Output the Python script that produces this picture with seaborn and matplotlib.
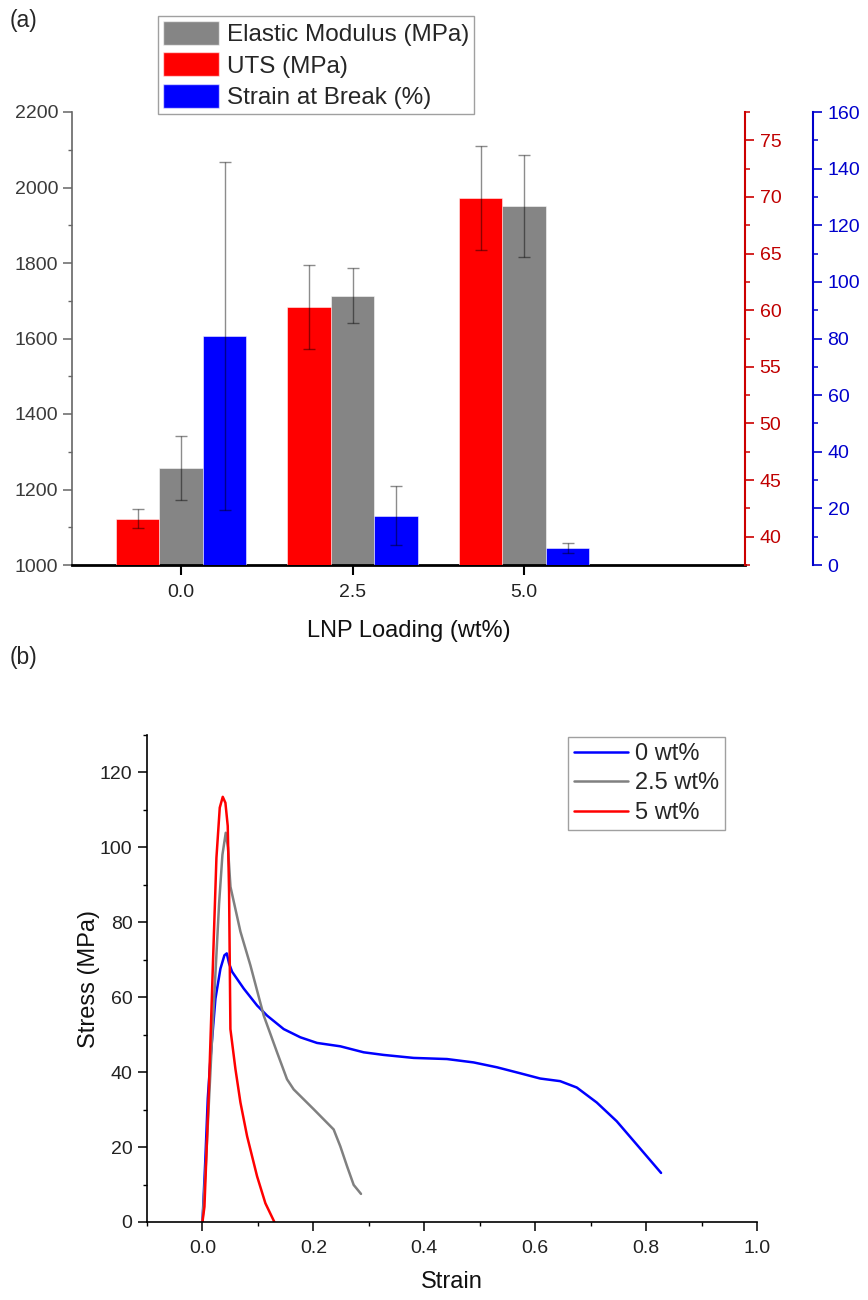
import numpy as np
import pandas as pd
import matplotlib
matplotlib.use("Agg")
import matplotlib.pyplot as plt
import seaborn as sns
from matplotlib.patches import Patch
from matplotlib.ticker import MultipleLocator, FixedLocator, FormatStrFormatter

# ---------------- data: panel (a) ----------------
loading = [0.0, 2.5, 5.0]
loading_labels = ["0.0", "2.5", "5.0"]
uts_mean = [41.6, 60.3, 69.9]
uts_sd = [0.85, 3.7, 4.6]
modulus_mean = [1256, 1713, 1952]
modulus_sd = [85, 73, 135]
strain_break_mean = [81.0, 17.4, 6.1]
strain_break_sd = [61.5, 10.4, 1.7]

# ---------------- data: panel (b) ----------------
strain_0 = [0.0, 0.005, 0.0096, 0.0144, 0.0234, 0.0324, 0.0396, 0.0438, 0.048, 0.0535,
            0.0745, 0.0985, 0.1165, 0.1465, 0.1766, 0.2066, 0.2486, 0.2907, 0.3267,
            0.3808, 0.4409, 0.4889, 0.531, 0.573, 0.609, 0.645, 0.675, 0.711, 0.747,
            0.783, 0.827]
stress_0 = [0.0, 16, 33, 43.5, 59.6, 67.6, 71.2, 71.7, 69.0, 66.8,
            62.3, 57.8, 55.1, 51.5, 49.3, 47.8, 46.9, 45.3, 44.6,
            43.8, 43.5, 42.6, 41.3, 39.7, 38.3, 37.6, 35.9, 31.9, 26.9,
            20.7, 13.1]
strain_25 = [0.0, 0.006, 0.012, 0.018, 0.024, 0.03, 0.036, 0.042, 0.046, 0.049, 0.0505,
             0.0685, 0.0865, 0.1105, 0.1345, 0.1525, 0.1645, 0.2006, 0.2366, 0.2486,
             0.2607, 0.2727, 0.2859]
stress_25 = [0.0, 15, 33, 51, 68, 85, 98, 103.9, 100, 93, 89.5,
             77.5, 68.5, 55.1, 45.3, 38.1, 35.4, 30.1, 24.7, 20.2,
             14.9, 9.9, 7.5]
strain_5 = [0.0, 0.0036, 0.0114, 0.0192, 0.0252, 0.0312, 0.0366, 0.0414, 0.0456, 0.048,
            0.0504, 0.0595, 0.0685, 0.0805, 0.0985, 0.1135, 0.1297]
stress_5 = [0.0, 4.1, 34.5, 70.3, 97.2, 110.6, 113.5, 111.9, 105.7, 88.2,
            51.5, 40.8, 31.9, 22.9, 12.2, 5.0, 0.0]
curve_labels = ["0 wt%", "2.5 wt%", "5 wt%"]

# ---------------- style ----------------
sns.set_theme(style="ticks")
plt.rcParams["font.family"] = ["Liberation Sans", "DejaVu Sans"]

W, H = 868, 1300
fig = plt.figure(figsize=(W / 100, H / 100), dpi=100)

RED = "#FF0000"
GRAY = "#858585"
BLUE = "#0000FF"
names = ["UTS (MPa)", "Elastic Modulus (MPa)", "Strain at Break (%)"]
pal = {names[0]: RED, names[1]: GRAY, names[2]: BLUE}

TICK_FS = 14
LAB_FS = 17

# ---------------- panel (a) ----------------
ax = fig.add_axes([72 / W, 1 - 565 / H, (745 - 72) / W, (565 - 112) / H])
ax_r = ax.twinx()
ax_b = ax.twinx()
ax_b.spines["right"].set_position(("outward", 68 * 0.72))

df_bars = pd.DataFrame({
    "loading": loading * 3,
    "measure": [names[0]] * 3 + [names[1]] * 3 + [names[2]] * 3,
    "value": uts_mean + modulus_mean + strain_break_mean,
    "sd": uts_sd + modulus_sd + strain_break_sd,
})

for axis, name in [(ax, names[1]), (ax_r, names[0]), (ax_b, names[2])]:
    sub = df_bars[df_bars["measure"] == name]
    sns.barplot(data=sub, x="loading", y="value", hue="measure", hue_order=names,
                palette=pal, saturation=1, native_scale=True, dodge=True, width=0.76,
                errorbar=None, legend=False, ax=axis,
                edgecolor=(1, 1, 1, 0.6), linewidth=0.6)
    bars = sorted(axis.patches, key=lambda p: p.get_x())
    for p, (_, row) in zip(bars, sub.sort_values("loading").iterrows()):
        cx = p.get_x() + p.get_width() / 2
        axis.errorbar(cx, row["value"], yerr=row["sd"], fmt="none",
                      ecolor=(0, 0, 0, 0.45), elinewidth=1.0, capsize=4, capthick=1.0)
    axis.set_xlabel("")
    axis.set_ylabel("")

ax.set_xlim(-1.59, 8.22)
ax.xaxis.set_major_locator(FixedLocator(loading))
ax.set_xticklabels(loading_labels)
ax.set_ylim(1000, 2200)
ax.yaxis.set_major_locator(MultipleLocator(200))
ax.yaxis.set_minor_locator(MultipleLocator(100))
ax_r.set_ylim(37.5, 77.5)
ax_r.yaxis.set_major_locator(MultipleLocator(5))
ax_r.yaxis.set_minor_locator(MultipleLocator(2.5))
ax_b.set_ylim(0, 160)
ax_b.yaxis.set_major_locator(MultipleLocator(20))
ax_b.yaxis.set_minor_locator(MultipleLocator(10))

for s in ["top", "right"]:
    ax.spines[s].set_visible(False)
ax.spines["left"].set_color("#666666")
ax.spines["left"].set_linewidth(1.2)
ax.spines["bottom"].set_color("black")
ax.spines["bottom"].set_linewidth(2.0)
for a in (ax_r, ax_b):
    for s in ["top", "left", "bottom"]:
        a.spines[s].set_visible(False)
ax_r.spines["right"].set_color("#CC0000")
ax_r.spines["right"].set_linewidth(1.5)
ax_b.spines["right"].set_color("#0000CC")
ax_b.spines["right"].set_linewidth(1.5)

ax.tick_params(axis="y", which="major", length=6.5, width=1.1, color="#666666",
               labelcolor="#3a3a3a", labelsize=TICK_FS, pad=3.5)
ax.tick_params(axis="y", which="minor", length=3, width=1.0, color="#666666")
ax.tick_params(axis="x", which="major", length=7, width=1.5, color="black",
               labelcolor="#222222", labelsize=TICK_FS, pad=6.5)
ax_r.tick_params(axis="y", which="major", length=6.5, width=1.2, color="#CC0000",
                 labelcolor="#C00000", labelsize=TICK_FS, pad=4)
ax_r.tick_params(axis="y", which="minor", length=3.5, width=1.1, color="#CC0000")
ax_b.tick_params(axis="y", which="major", length=6.5, width=1.2, color="#0000CC",
                 labelcolor="#0000CC", labelsize=TICK_FS, pad=4)
ax_b.tick_params(axis="y", which="minor", length=3.5, width=1.1, color="#0000CC")

ax.set_xlabel("LNP Loading (wt%)", fontsize=LAB_FS, labelpad=14, color="#111111")

handles = [Patch(facecolor=GRAY, edgecolor=(1, 1, 1, 0.6), label=names[1]),
           Patch(facecolor=RED, edgecolor=(1, 1, 1, 0.6), label=names[0]),
           Patch(facecolor=BLUE, edgecolor=(1, 1, 1, 0.6), label=names[2])]
leg = fig.legend(handles=handles, loc="upper left", bbox_to_anchor=(158 / W, 1 - 16 / H),
                 frameon=True, fancybox=False, edgecolor="#888888", fontsize=17.5,
                 handlelength=2.3, handleheight=1.15, borderpad=0.2, labelspacing=0.25,
                 handletextpad=0.35, borderaxespad=0)
leg.get_frame().set_linewidth(1.0)

fig.text(10 / W, 1 - 20 / H, "(a)", fontsize=16.5, va="center", ha="left")
fig.text(10 / W, 1 - 657 / H, "(b)", fontsize=16.5, va="center", ha="left")

# ---------------- panel (b) ----------------
ax2 = fig.add_axes([147 / W, 1 - 1222 / H, (757 - 147) / W, (1222 - 735) / H])
df_curves = pd.DataFrame({
    "strain": strain_0 + strain_25 + strain_5,
    "stress": stress_0 + stress_25 + stress_5,
    "sample": [curve_labels[0]] * len(strain_0) + [curve_labels[1]] * len(strain_25)
              + [curve_labels[2]] * len(strain_5),
})
sns.lineplot(data=df_curves, x="strain", y="stress", hue="sample", hue_order=curve_labels,
             palette={curve_labels[0]: BLUE, curve_labels[1]: "#808080", curve_labels[2]: RED},
             sort=False, estimator=None, linewidth=1.8, ax=ax2)

ax2.set_xlim(-0.1, 1.0)
ax2.set_ylim(0, 130)
ax2.xaxis.set_major_locator(MultipleLocator(0.2))
ax2.xaxis.set_minor_locator(MultipleLocator(0.1))
ax2.yaxis.set_major_locator(MultipleLocator(20))
ax2.yaxis.set_minor_locator(MultipleLocator(10))
ax2.xaxis.set_major_formatter(FormatStrFormatter("%.1f"))
for s in ["top", "right"]:
    ax2.spines[s].set_visible(False)
for s in ["left", "bottom"]:
    ax2.spines[s].set_color("black")
    ax2.spines[s].set_linewidth(1.2)
ax2.tick_params(which="major", length=6.5, width=1.1, color="black",
                labelcolor="#222222", labelsize=TICK_FS, pad=4)
ax2.tick_params(axis="x", which="major", pad=6.5)
ax2.tick_params(which="minor", length=3, width=1.0, color="black")
ax2.set_xlabel("Strain", fontsize=LAB_FS, labelpad=10, color="#111111")
ax2.set_ylabel("Stress (MPa)", fontsize=LAB_FS, labelpad=0, color="#111111")

leg2 = ax2.legend(loc="upper right", bbox_to_anchor=(0.948, 0.996), frameon=True,
                  fancybox=False, edgecolor="#888888", fontsize=LAB_FS, handlelength=2.3,
                  borderpad=0.25, labelspacing=0.32, handletextpad=0.3, borderaxespad=0,
                  title=None)
leg2.get_frame().set_linewidth(1.0)

fig.savefig("out.png", dpi=100)
